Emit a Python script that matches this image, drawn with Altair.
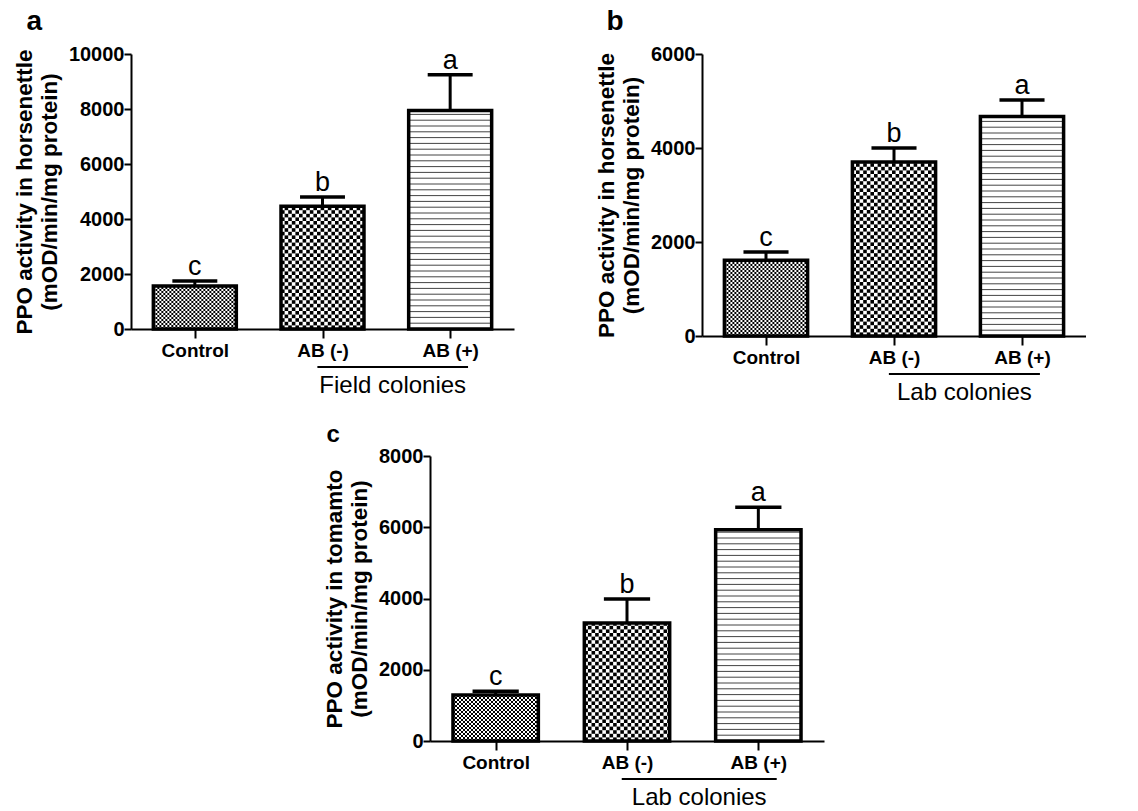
import json
import altair as alt
import pandas as pd

FONT = "Liberation Sans"

categories = ["Control", "AB (-)", "AB (+)"]
sig_letters = ["c", "b", "a"]

a_means = [1560, 4460, 7950]
a_errs = [185, 340, 1300]
b_means = [1610, 3700, 4670]
b_errs = [175, 300, 350]
c_means = [1290, 3310, 5930]
c_errs = [105, 675, 630]

panel_keys = ["a", "b", "c"]
panel_ymax = [10000, 6000, 8000]
panel_titles = [
    ["PPO activity in horsenettle", "(mOD/min/mg protein)"],
    ["PPO activity in horsenettle", "(mOD/min/mg protein)"],
    ["PPO activity in tomamto", "(mOD/min/mg protein)"],
]
panel_groups = ["Field colonies", "Lab colonies", "Lab colonies"]
panel_sizes = [(383, 275), (384, 282), (394, 285)]
panel_means = [a_means, b_means, c_means]
panel_errs = [a_errs, b_errs, c_errs]
panel_title_dx = [13, 11, 3]
panel_title_offset = [8, 8, -1]
panel_letter_size = [28, 28, 24]

label_expr = json.dumps(categories) + "[floor(datum.value)]"


def texture(means, ymax, W, H):
    ux = 3.0 / W
    uy = ymax / H
    cells, lines = [], []
    for idx, m in enumerate(means):
        x0, x1 = idx + 0.175, idx + 0.825
        if idx < 2:
            s = 2.0 if idx == 0 else 3.6
            ncol = int(round((x1 - x0) / (s * ux))) + 1
            nrow = int(m / (s * uy)) + 1
            for i in range(ncol):
                for j in range(nrow):
                    if (i + j) % 2 == 0:
                        xa = x0 + i * s * ux
                        xb = min(xa + s * ux, x1)
                        ya = j * s * uy
                        yb = min(ya + s * uy, m)
                        if xa < x1 and ya < m:
                            cells.append({"xa": xa, "xb": xb, "ya": ya, "yb": yb})
        else:
            s = 5.8
            k = 1
            while k * s * uy < m:
                lines.append({"xa": x0, "xb": x1, "yv": k * s * uy})
                k += 1
    return pd.DataFrame(cells), pd.DataFrame(lines)


def make_panel(p):
    means, errs = panel_means[p], panel_errs[p]
    ymax = panel_ymax[p]
    W, H = panel_sizes[p]
    df = pd.DataFrame({
        "cat": categories,
        "idx": range(3),
        "mean": means,
        "err": errs,
        "sig": sig_letters,
    })
    df["x0"] = df["idx"] + 0.175
    df["x1"] = df["idx"] + 0.825
    df["center"] = df["idx"] + 0.5
    df["cap0"] = df["center"] - 0.176
    df["cap1"] = df["center"] + 0.176
    df["top"] = df["mean"] + df["err"]
    df["zero"] = 0

    xscale = alt.Scale(domain=[0, 3], nice=False, zero=False)
    yscale = alt.Scale(domain=[0, ymax], nice=False)
    xaxis = alt.Axis(values=[0.5, 1.5, 2.5], labelExpr=label_expr, title=None,
                     grid=False, domainColor="black", domainWidth=2, tickColor="black",
                     tickWidth=2, tickSize=9, labelFont=FONT, labelFontSize=19,
                     labelFontWeight="bold", labelColor="black", labelPadding=3)
    yaxis = alt.Axis(values=list(range(0, ymax + 1, 2000)), format="d",
                     title=panel_titles[p], grid=False, domainColor="black",
                     domainWidth=2, tickColor="black", tickWidth=2, tickSize=7,
                     labelFont=FONT, labelFontSize=20, labelFontWeight="bold",
                     labelColor="black", labelPadding=0, titleFont=FONT,
                     titleFontSize=22.5, titleFontWeight="bold", titleColor="black",
                     titlePadding=7, titleLineHeight=25)

    cells, lines = texture(means, ymax, W, H)
    base = alt.Chart(df)

    cell_layer = alt.Chart(cells).mark_rect(color="black", strokeWidth=0).encode(
        x=alt.X("xa:Q", scale=xscale, axis=xaxis), x2="xb:Q",
        y=alt.Y("ya:Q", scale=yscale, axis=yaxis), y2="yb:Q")
    line_layer = alt.Chart(lines).mark_rule(color="#444444", strokeWidth=1).encode(
        x=alt.X("xa:Q", scale=xscale, axis=xaxis), x2="xb:Q",
        y=alt.Y("yv:Q", scale=yscale, axis=yaxis))
    outline = base.mark_rect(fillOpacity=0, stroke="black", strokeWidth=3.5).encode(
        x=alt.X("x0:Q", scale=xscale, axis=xaxis), x2="x1:Q",
        y=alt.Y("zero:Q", scale=yscale, axis=yaxis), y2="mean:Q")
    stem = base.mark_rule(color="black", strokeWidth=3).encode(
        x=alt.X("center:Q", scale=xscale, axis=xaxis),
        y=alt.Y("mean:Q", scale=yscale, axis=yaxis), y2="top:Q")
    cap = base.mark_rule(color="black", strokeWidth=3.5).encode(
        x=alt.X("cap0:Q", scale=xscale, axis=xaxis), x2="cap1:Q",
        y=alt.Y("top:Q", scale=yscale, axis=yaxis))
    sig = base.mark_text(font=FONT, fontSize=27, baseline="alphabetic", dy=-6,
                         color="black").encode(
        x=alt.X("center:Q", scale=xscale, axis=xaxis),
        y=alt.Y("top:Q", scale=yscale, axis=yaxis), text="sig:N")

    gdf = pd.DataFrame({
        "g0": [categories.index("AB (-)") + 0.46],
        "g1": [categories.index("AB (+)") + 0.64],
        "label": [panel_groups[p]],
    })
    gdf["gm"] = (gdf["g0"] + gdf["g1"]) / 2
    grule = alt.Chart(gdf).mark_rule(color="black", strokeWidth=2).encode(
        x=alt.X("g0:Q", scale=xscale, axis=xaxis), x2="g1:Q", y=alt.value(H + 38))
    gtext = alt.Chart(gdf).mark_text(font=FONT, fontSize=24, baseline="middle",
                                     color="black").encode(
        x=alt.X("gm:Q", scale=xscale, axis=xaxis), y=alt.value(H + 57), text="label:N")

    return alt.layer(cell_layer, line_layer, outline, stem, cap, sig, grule, gtext).properties(
        width=W, height=H,
        title=alt.TitleParams(text=panel_keys[p], anchor="start", frame="bounds",
                              font=FONT, fontSize=panel_letter_size[p],
                              fontWeight="bold", color="black",
                              dx=panel_title_dx[p], offset=panel_title_offset[p]))


pa, pb, pc = make_panel(0), make_panel(1), make_panel(2)

spacer = alt.Chart(pd.DataFrame({"v": [0]})).mark_point(opacity=0).encode(
    x=alt.value(0), y=alt.value(0)).properties(width=192, height=1)

row1 = alt.hconcat(pa, pb, spacing=81)
row2 = alt.hconcat(spacer, pc, spacing=0)
chart = alt.vconcat(row1, row2, spacing=18).properties(
    padding={"left": 13, "top": 8, "right": 0, "bottom": 0},
    background="white",
).configure_view(stroke="transparent", strokeWidth=0)

chart.save("out.html", embed_options={"renderer": "svg", "actions": False})
